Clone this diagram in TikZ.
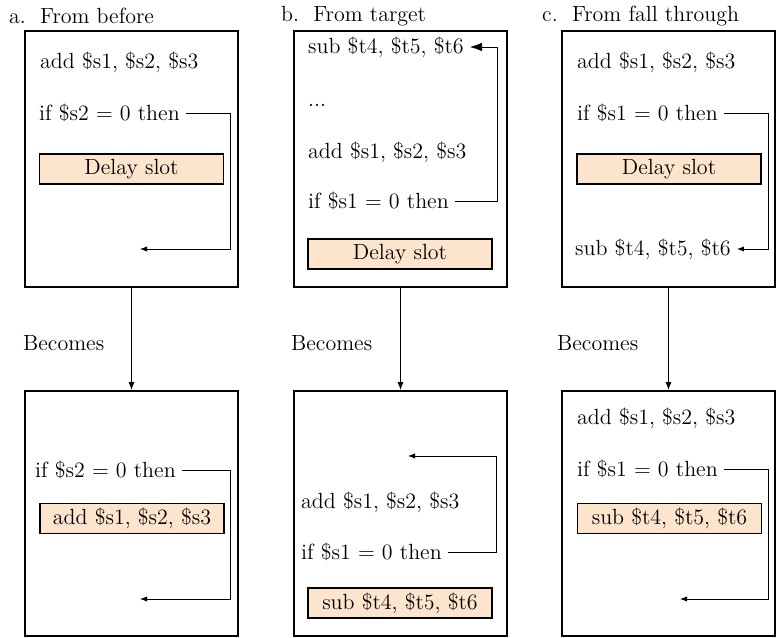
\documentclass[tikz,border=0pt]{standalone}
\usetikzlibrary{arrows.meta}
\usetikzlibrary{positioning}
\definecolor{slotfill}{RGB}{252,228,205}
\tikzstyle{panel}=[draw,line width=1.1pt,minimum width=4.26cm,inner sep=0pt]
\tikzstyle{jump}=[draw,-{Latex[length=4pt,width=3pt]},line width=0.5pt]

\begin{document}
\begin{tikzpicture}[x=0.02cm,y=-0.02cm,font=\fontsize{12.5}{15}\selectfont]

\tikzset{instr/.style = {anchor=west}}
\tikzset{slot/.style = {draw,line width=1.1pt,fill=slotfill,minimum width=3.68cm,minimum height=0.6cm,inner sep=1pt}}
\tikzset{flow/.style = {-{Latex[length=4.5pt,width=3.5pt]},line width=0.6pt}}

\useasboundingbox (0,0) rectangle (777,638);

%titles
\node[instr] (ta) at (3,16) {a.\ \ From before};
\node[instr] (tb) at (275,16) {b.\ \ From target};
\node[instr] (tc) at (536,16) {c.\ \ From fall through};

%panels
\node[panel, minimum height=5.12cm] (a1) at (131.5,159) {};
\node[panel, minimum height=5.12cm] (b1) at (400.5,159) {};
\node[panel, minimum height=5.12cm] (c1) at (668.5,159) {};
\node[panel, minimum height=4.9cm] (a2) at (131.5,513.5) {};
\node[panel, minimum height=4.9cm] (b2) at (400.5,513.5) {};
\node[panel, minimum height=4.9cm] (c2) at (668.5,513.5) {};

%before
\node[instr] (adda) at (34,62) {add \$s1, \$s2, \$s3};
\node[instr] (ifa) at (33,113) {if \$s2 = 0 then};
\node[slot] (slota) at (131.5,169) {Delay slot};
\coordinate (enda) at (140,249);

\node[instr] (ifa2) at (29,470) {if \$s2 = 0 then};
\node[slot, inner sep=0pt] (slota2) at (132,518.5) {add \$s1, \$s2, \$s3};
\coordinate (enda2) at (140,599);

%target
\node[instr] (subb) at (302,47) {sub \$t4, \$t5, \$t6};
\node[instr] (dotsb) at (302,105) {...};
\node[instr] (addb) at (302,152) {add \$s1, \$s2, \$s3};
\node[instr] (ifb) at (302,201) {if \$s1 = 0 then};
\node[slot] (slotb) at (400,254) {Delay slot};

\coordinate (endb2) at (408,456);
\node[instr] (addb2) at (295,502) {add \$s1, \$s2, \$s3};
\node[instr] (ifb2) at (295,552) {if \$s1 = 0 then};
\node[slot] (slotb2) at (400,603) {sub \$t4, \$t5, \$t6};

%fall through
\node[instr] (addc) at (571,62) {add \$s1, \$s2, \$s3};
\node[instr] (ifc) at (571,113) {if \$s1 = 0 then};
\node[slot] (slotc) at (669,169) {Delay slot};
\node[instr] (subc) at (569,249) {sub \$t4, \$t5, \$t6};

\node[instr] (addc2) at (571,418) {add \$s1, \$s2, \$s3};
\node[instr] (ifc2) at (571,469) {if \$s1 = 0 then};
\node[slot] (slotc2) at (669.5,518.5) {sub \$t4, \$t5, \$t6};
\coordinate (endc2) at (680,599);

%becomes
\node[instr] (ba) at (17,343) {Becomes};
\node[instr] (bb) at (285,343) {Becomes};
\node[instr] (bc) at (551,343) {Becomes};

\draw[flow] (a1) to (a2);
\draw[flow] (b1) to (b2);
\draw[flow] (c1) to (c2);

%branches
\draw[jump] (ifa.east) -| (230,249) -- (enda);
\draw[jump] (ifa2.east) -| (230,599) -- (enda2);
\draw[jump, -{Latex[length=7pt,width=5pt]}] (ifb.east) -| (497,47) -- (subb.east);
\draw[jump] (ifb2.east) -| (496,456) -- (endb2);
\draw[jump] (ifc.east) -| (768,249) -- (subc.east);
\draw[jump] (ifc2.east) -| (768,599) -- (endc2);

\end{tikzpicture}
\end{document}
